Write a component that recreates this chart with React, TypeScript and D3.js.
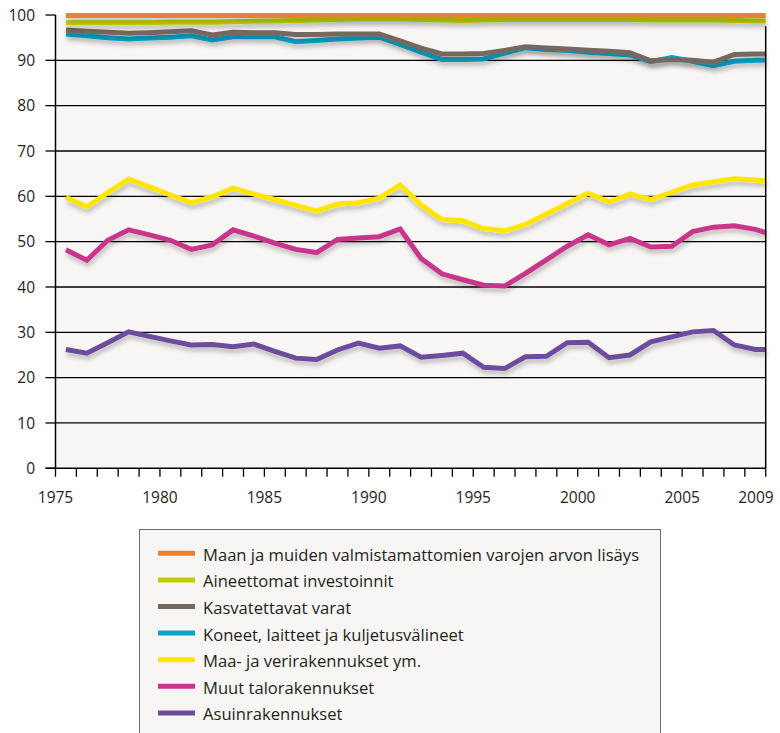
import React, { useEffect } from 'react';
import * as d3 from 'd3';

const years = [1975,1976,1977,1978,1979,1980,1981,1982,1983,1984,1985,1986,1987,1988,1989,1990,1991,1992,1993,1994,1995,1996,1997,1998,1999,2000,2001,2002,2003,2004,2005,2006,2007,2008,2009];

const maanArvo = [99.9,99.9,99.9,99.9,99.9,99.9,99.9,99.9,99.9,99.9,99.9,99.9,99.9,99.9,99.9,99.9,99.9,99.9,99.9,99.9,99.9,99.9,99.9,99.9,99.9,99.9,99.9,99.9,99.9,99.9,99.9,99.9,99.9,99.9,99.9];
const aineettomat = [98.3,98.3,98.3,98.3,98.3,98.4,98.4,98.4,98.5,98.6,98.7,98.8,98.9,99.0,99.1,99.1,99.1,99.0,98.9,98.8,98.9,99.0,99.0,99.0,99.0,99.0,99.0,99.0,98.9,98.9,98.9,98.9,98.8,98.7,98.7];
const kasvatettavat = [96.7,96.4,96.2,96.0,96.1,96.3,96.5,95.6,96.2,96.1,96.1,95.7,95.7,95.8,95.8,95.8,94.3,92.7,91.4,91.4,91.5,92.2,93.0,92.7,92.5,92.2,92.0,91.7,89.9,90.2,90.0,89.6,91.3,91.4,91.4];
const koneet = [95.8,95.4,95.0,94.7,94.9,95.1,95.4,94.5,95.2,95.2,95.2,94.1,94.4,94.7,94.9,95.1,93.5,91.8,90.2,90.2,90.3,91.6,92.8,92.4,92.2,91.8,91.5,91.2,89.7,90.6,89.8,88.8,89.8,90.0,90.0];
const maaVesi = [59.8,57.7,60.8,63.8,62.1,60.3,58.6,59.9,61.8,60.5,59.3,58.0,56.8,58.3,58.6,59.6,62.5,58.1,54.9,54.6,52.9,52.4,53.8,56.1,58.4,60.7,58.8,60.5,59.3,60.9,62.5,63.2,63.9,63.6,63.4];
const muutTalo = [48.2,45.9,50.3,52.6,51.5,50.3,48.3,49.3,52.6,51.2,49.7,48.3,47.6,50.5,50.8,51.1,52.8,46.3,42.9,41.6,40.4,40.2,43.0,46.0,49.0,51.5,49.3,50.7,48.8,49.0,52.2,53.2,53.5,52.7,52.0];
const asuin = [26.2,25.4,27.7,30.1,29.1,28.1,27.2,27.3,26.8,27.4,25.8,24.3,24.0,26.1,27.6,26.5,27.0,24.5,24.9,25.4,22.3,22.0,24.6,24.7,27.7,27.8,24.4,25.0,27.9,29.0,30.1,30.4,27.2,26.2,26.2];

const seriesNames = [
  'Maan ja muiden valmistamattomien varojen arvon lisäys',
  'Aineettomat investoinnit',
  'Kasvatettavat varat',
  'Koneet, laitteet ja kuljetusvälineet',
  'Maa- ja verirakennukset ym.',
  'Muut talorakennukset',
  'Asuinrakennukset',
];
const seriesValues = [maanArvo, aineettomat, kasvatettavat, koneet, maaVesi, muutTalo, asuin];
const seriesColors = ['#ee7f2d', '#c3cc00', '#76685e', '#07a5ca', '#ffe600', '#c8348a', '#6d4c9d'];

const yTicks = [0, 10, 20, 30, 40, 50, 60, 70, 80, 90, 100];
const xLabelYears = [1975, 1980, 1985, 1990, 1995, 2000, 2005, 2009];

const W = 780;
const H = 733;

export default function App() {
  useEffect(() => {
    document.body.style.margin = '0';
  }, []);

  const x = d3.scaleLinear().domain([1975, 2009]).range([55.5, 765.7]);
  const y = d3.scaleLinear().domain([0, 100]).range([468.3, 15]);
  const px = (yr: number) => x(Math.min(yr + 0.5, 2009));
  const line = (vals: number[]) =>
    d3.line<number>().x((_, i) => px(years[i])).y((v) => y(v))(vals) as string;

  const font = '"Open Sans", Lato, sans-serif';
  const textColor = '#231f20';
  const drawOrder = [6, 5, 4, 3, 2, 1, 0];

  const legendX = 139.5;
  const legendY = 529.5;
  const legendW = 521;
  const legendStep = 26.6;
  const legendFirst = 553.3;

  return (
    <svg width={W} height={H} style={{ display: 'block', background: '#ffffff' }}>
      <defs>
        <filter id="sh" filterUnits="userSpaceOnUse" x={0} y={0} width={W} height={H}>
          <feDropShadow dx="1" dy="4" stdDeviation="2.2" floodColor="#000" floodOpacity="0.22" />
        </filter>
      </defs>
      <rect x={x(1975)} y={y(100)} width={x(2009) - x(1975)} height={y(0) - y(100)} fill="#f7f6f4" />

      {yTicks.filter((t) => t > 0 && t < 100).map((t) => (
        <line key={'g' + t} x1={x(1975)} x2={x(2009)} y1={y(t)} y2={y(t)} stroke="#000" strokeWidth={1.3} />
      ))}
      {yTicks.map((t) => (
        <line key={'yt' + t} x1={x(1975) - 10} x2={x(1975)} y1={y(t)} y2={y(t)} stroke="#000" strokeWidth={1.3} />
      ))}
      {yTicks.map((t) => (
        <text key={'yl' + t} x={35} y={y(t)} dy="0.36em" textAnchor="end" fontFamily={font} fontSize={15.5} fill={textColor}>
          {t}
        </text>
      ))}

      {drawOrder.map((i) => (
        <path key={'s' + i} d={line(seriesValues[i])} fill="none" stroke={seriesColors[i]} strokeWidth={5} strokeLinejoin="miter" strokeMiterlimit={3} filter="url(#sh)" />
      ))}

      <line x1={x(1975)} x2={x(1975)} y1={y(100)} y2={y(0)} stroke="#000" strokeWidth={1.5} />
      <line x1={x(2009)} x2={x(2009)} y1={y(97.5)} y2={y(0)} stroke="#000" strokeWidth={1.5} />
      <line x1={x(1975) - 10} x2={x(2009)} y1={y(0)} y2={y(0)} stroke="#000" strokeWidth={1.5} />
      {years.map((yr) => (
        <line key={'xt' + yr} x1={x(yr)} x2={x(yr)} y1={y(0)} y2={y(0) + 8.5} stroke="#000" strokeWidth={1.3} />
      ))}
      {xLabelYears.map((yr) => (
        <text key={'xl' + yr} x={yr === 2009 ? x(yr) + 8 : x(yr)} y={502.7} textAnchor={yr === 2009 ? 'end' : 'middle'} fontFamily={font} fontSize={15.5} fill={textColor}>
          {yr}
        </text>
      ))}

      <rect x={legendX} y={legendY} width={legendW} height={H} fill="#f7f6f4" stroke="#6b6b6b" strokeWidth={1} />
      {seriesNames.map((name, i) => (
        <g key={'lg' + i}>
          <line x1={158} x2={195} y1={legendFirst + i * legendStep} y2={legendFirst + i * legendStep} stroke={seriesColors[i]} strokeWidth={5} />
          <text x={203} y={legendFirst + i * legendStep + 7.4} fontFamily={font} fontSize={16.6} fill={textColor}>
            {name}
          </text>
        </g>
      ))}
    </svg>
  );
}
